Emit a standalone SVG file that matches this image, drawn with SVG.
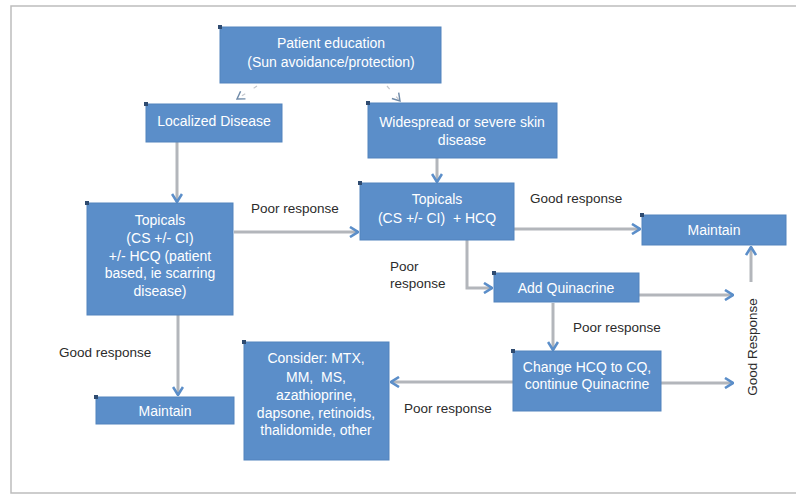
<svg xmlns="http://www.w3.org/2000/svg" width="796" height="495" viewBox="0 0 796 495">
<style>
.box{fill:#5b8ec9;stroke:#5283bd;stroke-width:1}
.bt{font-family:"Liberation Sans",Arial,sans-serif;font-size:14px;fill:#ffffff;text-anchor:middle}
.lb{font-family:"Liberation Sans",Arial,sans-serif;font-size:13.5px;fill:#2b2b2b}
.dot{fill:#2f4b70}
.ln{fill:none;stroke:#b3b6bb;stroke-width:3;marker-end:url(#ah)}
.lt{fill:none;stroke:#c4c7cc;stroke-width:1.2;stroke-dasharray:4 10;marker-end:url(#ahs)}
.frame{fill:none;stroke:#bdbdbd;stroke-width:1.5}
</style>
<defs>
<marker id="ah" viewBox="0 0 10 12" refX="9" refY="6" markerWidth="10" markerHeight="12" markerUnits="userSpaceOnUse" orient="auto">
<path d="M1,1 L9,6 L1,11" fill="none" stroke="#5b8ec9" stroke-width="2.6"/>
</marker>
<marker id="ahs" viewBox="0 0 10 12" refX="9" refY="6" markerWidth="9" markerHeight="11" markerUnits="userSpaceOnUse" orient="auto">
<path d="M1,1 L9,6 L1,11" fill="none" stroke="#6f8aa8" stroke-width="1.6"/>
</marker>
</defs>
<rect width="796" height="495" fill="#ffffff"/>
<path class="frame" d="M796,6 L11,6 L11,493 L796,493"/>

<g id="connectors">
<path class="lt" d="M257,86 L237,99"/>
<path class="lt" d="M387,86 L400,101"/>
<path class="ln" d="M177,142 L177,202"/>
<path class="ln" d="M234,232 L358,232"/>
<path class="ln" d="M437,158 L437,182"/>
<path class="ln" d="M514,229 L640,229"/>
<path class="ln" d="M467,240 L467,288 L492,288"/>
<path class="ln" d="M639,295 L733,295"/>
<path class="ln" d="M751,282 L751,247"/>
<path class="ln" d="M553,303 L553,350"/>
<path class="ln" d="M661,383 L733,383"/>
<path class="ln" d="M513,382 L391,382"/>
<path class="ln" d="M178,315 L178,395"/>
</g>

<g id="labels">
<text class="lb" x="251" y="213">Poor response</text>
<text class="lb" x="530" y="203">Good response</text>
<text class="lb" x="390" y="271">Poor</text>
<text class="lb" x="390" y="288">response</text>
<text class="lb" x="573" y="332">Poor response</text>
<text class="lb" x="404" y="413">Poor response</text>
<text class="lb" x="59" y="357">Good response</text>
<text class="lb" transform="translate(757,347) rotate(-90)" text-anchor="middle">Good Response</text>
</g>

<g id="n-patient">
<rect class="box" x="220" y="27" width="221" height="56"/>
<rect class="dot" x="218" y="25" width="4" height="4"/>
<text class="bt" x="331" y="48">Patient education</text>
<text class="bt" x="331" y="67">(Sun avoidance/protection)</text>
</g>
<g id="n-localized">
<rect class="box" x="146" y="104" width="136" height="38"/>
<rect class="dot" x="144" y="102" width="4" height="4"/>
<text class="bt" x="214" y="126">Localized Disease</text>
</g>
<g id="n-widespread">
<rect class="box" x="368" y="103" width="189" height="55"/>
<rect class="dot" x="366" y="101" width="4" height="4"/>
<text class="bt" x="462" y="127">Widespread or severe skin</text>
<text class="bt" x="462" y="145">disease</text>
</g>
<g id="n-topicals1">
<rect class="box" x="87" y="203" width="146" height="112"/>
<rect class="dot" x="85" y="201" width="4" height="4"/>
<text class="bt" x="160" y="225">Topicals</text>
<text class="bt" x="160" y="243">(CS +/- CI)</text>
<text class="bt" x="160" y="261">+/- HCQ (patient</text>
<text class="bt" x="160" y="278">based, ie scarring</text>
<text class="bt" x="160" y="296">disease)</text>
</g>
<g id="n-topicals2">
<rect class="box" x="360" y="183" width="154" height="57"/>
<rect class="dot" x="358" y="181" width="4" height="4"/>
<text class="bt" x="437" y="204">Topicals</text>
<text class="bt" x="437" y="223" xml:space="preserve">(CS +/- CI)  + HCQ</text>
</g>
<g id="n-maintain-right">
<rect class="box" x="642" y="215" width="144" height="30"/>
<rect class="dot" x="640" y="213" width="4" height="4"/>
<text class="bt" x="714" y="235">Maintain</text>
</g>
<g id="n-quinacrine">
<rect class="box" x="494" y="273" width="145" height="29"/>
<rect class="dot" x="492" y="271" width="4" height="4"/>
<text class="bt" x="566" y="293">Add Quinacrine</text>
</g>
<g id="n-change">
<rect class="box" x="513" y="351" width="148" height="60"/>
<rect class="dot" x="511" y="349" width="4" height="4"/>
<text class="bt" x="587" y="372">Change HCQ to CQ,</text>
<text class="bt" x="587" y="389">continue Quinacrine</text>
</g>
<g id="n-consider">
<rect class="box" x="244" y="342" width="145" height="118"/>
<rect class="dot" x="242" y="340" width="4" height="4"/>
<text class="bt" x="316" y="363">Consider: MTX,</text>
<text class="bt" x="316" y="382" xml:space="preserve">MM,  MS,</text>
<text class="bt" x="316" y="400">azathioprine,</text>
<text class="bt" x="316" y="418">dapsone, retinoids,</text>
<text class="bt" x="316" y="435">thalidomide, other</text>
</g>
<g id="n-maintain-left">
<rect class="box" x="96" y="397" width="138" height="27"/>
<rect class="dot" x="94" y="395" width="4" height="4"/>
<text class="bt" x="165" y="416">Maintain</text>
</g>
</svg>
